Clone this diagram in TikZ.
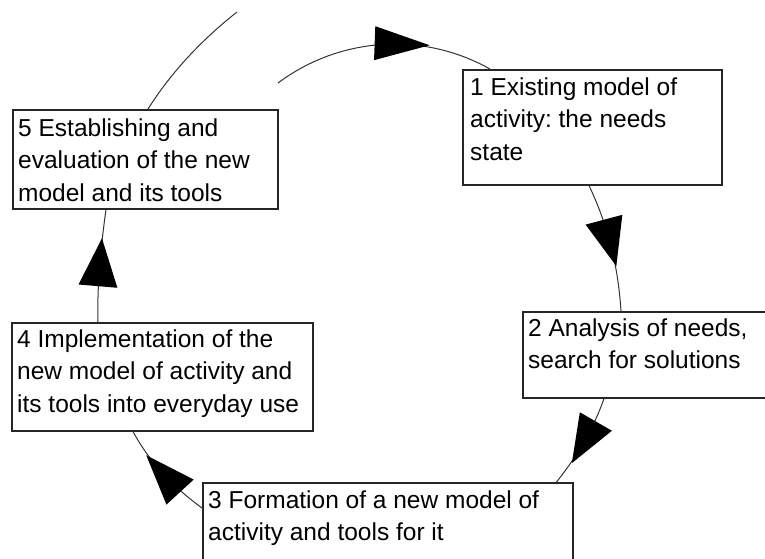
\documentclass[tikz,border=0pt]{standalone}
\usepackage{fontspec}
\setmainfont{Liberation Sans}
\usetikzlibrary{decorations.markings}
\frenchspacing
\begin{document}
\begin{tikzpicture}[x=1pt,y=-1pt,
  box/.style={draw=black!85, line width=1.5pt, fill=white, inner sep=0pt, anchor=north west},
  txt/.style={inner sep=0pt, anchor=base west, font=\fontsize{24.5}{32.5}\selectfont},
  link/.style={draw=black!80, line width=1pt},
  mid arrow/.style n args={3}{postaction={decorate, decoration={markings,
      mark=at position #1 with {\fill[black] (-#2pt,-#3pt) -- (#2pt,0pt) -- (-#2pt,#3pt) -- cycle;}}}}]
\useasboundingbox (0,0) rectangle (765,558);
\clip (0,0) rectangle (765,558);

% boxes
\node[box, minimum width=259pt, minimum height=115pt] (b1) at (462,69) {};
\node[box, minimum width=250pt, minimum height=86pt] (b2) at (522,311) {};
\node[box, minimum width=370pt, minimum height=90pt] (b3) at (202,482) {};
\node[box, minimum width=301pt, minimum height=108pt] (b4) at (11,322) {};
\node[box, minimum width=265pt, minimum height=99pt] (b5) at (12,109) {};

% texts
\node[txt] (t1) at (470,95) {\parbox[t]{300pt}{1 Existing model of\\activity: the needs\\state}};
\node[txt] (t2) at (528,336) {\parbox[t]{300pt}{2 Analysis of needs,\\search for solutions}};
\node[txt] (t3) at (208,508) {\parbox[t]{400pt}{3 Formation of a new model of\\activity and tools for it}};
\node[txt] (t4) at (17,347) {\parbox[t]{320pt}{4 Implementation of the\\new model of activity and\\its tools into everyday use}};
\node[txt] (t5) at (18,136) {\parbox[t]{300pt}{5 Establishing and\\evaluation of the new\\model and its tools}};

% free ends
\coordinate (s0) at (237,12);
\coordinate (s1) at (278,83);

% connectors
\draw[link] (s0) .. controls +(-34.6,27.2) and +(23.5,-37.2) .. ([xshift=136pt]b5.north west);
\draw[link, mid arrow={0.59}{27.5}{17}] (s1) .. controls +(61.4,-45.9) and +(-67.7,-38) .. ([xshift=28pt]b1.north west);
\draw[link, mid arrow={0.47}{24}{19}] ([xshift=127pt]b1.south west) .. controls +(19.2,40.7) and +(-2.9,-44.9) .. ([xshift=99pt]b2.north west);
\draw[link, mid arrow={0.5}{24}{18.5}] ([xshift=82pt]b2.south west) .. controls +(-10.9,31.1) and +(20.6,-25.8) .. ([xshift=-17pt]b3.north east);
\draw[link, mid arrow={0.5}{25}{18.5}] ([yshift=-26pt]b3.north west) .. controls +(-28.3,-20.6) and +(16.5,30.8) .. ([xshift=122pt]b4.south west);
\draw[link, mid arrow={0.53}{24}{19.5}] ([xshift=87pt]b4.north west) .. controls +(-1,-38) and +(-5.2,37.6) .. ([xshift=94pt]b5.south west);
\end{tikzpicture}
\end{document}
